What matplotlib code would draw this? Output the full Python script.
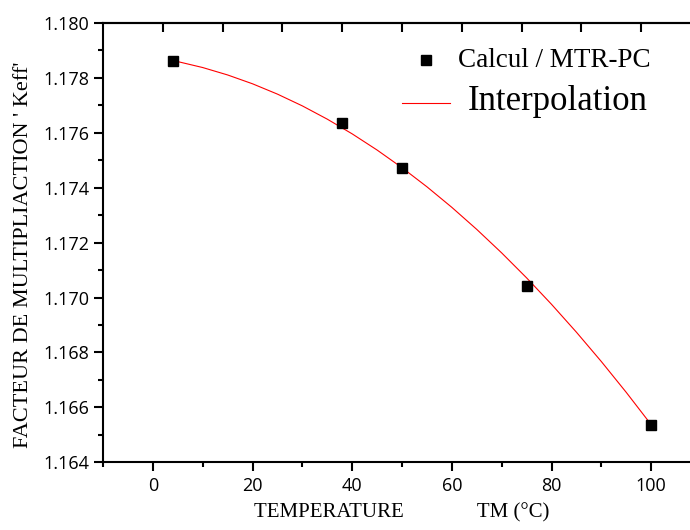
import matplotlib
matplotlib.use('Agg')
import matplotlib.pyplot as plt
from matplotlib.lines import Line2D

# Calculated points (MTR-PC)
temp_calc = [4, 38, 50, 75, 100]
keff_calc = [1.17863, 1.17637, 1.17473, 1.17043, 1.16537]

# Interpolation curve
temp_fit = [4, 5, 10, 15, 20, 25, 30, 35, 40, 45, 50, 55, 60, 65, 70, 75,
            80, 85, 90, 95, 100]
keff_fit = [1.178630, 1.178594, 1.178378, 1.178108, 1.177786, 1.177410,
            1.176981, 1.176498, 1.175962, 1.175373, 1.174730, 1.174034,
            1.173285, 1.172482, 1.171626, 1.170717, 1.169754, 1.168738,
            1.167669, 1.166546, 1.165370]

# inward ticks of the top axis
top_ticks = [2, 14, 26, 38, 50, 62, 74, 86, 98, 110]

SERIF = 'Liberation Serif'
SANS = 'Open Sans'

fig = plt.figure(figsize=(6.9, 5.3), dpi=100)
# right spine sits just outside the picture, as in the original
ax = fig.add_axes([0.1493, 0.1277, 0.8667, 0.8289])

ax.plot(temp_fit, keff_fit, color='#ff0000', linewidth=0.8, zorder=2)
ax.plot(temp_calc, keff_calc, linestyle='none', marker='s', markersize=7.5,
        color='black', zorder=3)

ax.set_xlim(-10, 110)
ax.set_ylim(1.164, 1.180)
ax.set_xticks([0, 20, 40, 60, 80, 100])
ax.set_xticks(range(-10, 111, 10), minor=True)
ax.set_yticks([1.164, 1.166, 1.168, 1.170, 1.172, 1.174, 1.176, 1.178, 1.180])
ax.set_yticks([1.165, 1.167, 1.169, 1.171, 1.173, 1.175, 1.177, 1.179],
              minor=True)
ax.set_yticklabels([f'{v:.3f}' for v in ax.get_yticks()])

for s in ax.spines.values():
    s.set_linewidth(1.5)

ax.tick_params(axis='both', which='major', direction='out', length=6.5,
               width=1.5, labelsize=13, pad=3.5)
ax.tick_params(axis='both', which='minor', direction='out', length=3.5,
               width=1.5)
ax.tick_params(axis='x', which='major', pad=4)
for lab in ax.get_xticklabels() + ax.get_yticklabels():
    lab.set_family(SANS)

top = ax.secondary_xaxis('top')
top.set_xticks(top_ticks)
top.set_xticklabels([])
top.tick_params(direction='in', length=6.5, width=1.5)
top.spines['top'].set_linewidth(1.5)

ax.set_xlabel('TEMPERATURE' + ' ' * 14 + 'TM (°C)', family=SERIF,
              fontsize=15, labelpad=6)
ax.set_ylabel("FACTEUR DE MULTIPLIACTION ' Keff'", family=SERIF,
              fontsize=16)
ax.yaxis.set_label_coords(-0.117, 0.472)

# legend, placed by hand like the original
fig.add_artist(Line2D([0.617], [0.8868], marker='s', markersize=7.5,
                      color='black', linestyle='none',
                      transform=fig.transFigure))
fig.text(0.664, 0.874, 'Calcul / MTR-PC', family=SERIF, fontsize=19.5,
         va='baseline', ha='left')
fig.add_artist(Line2D([0.5822, 0.6522], [0.8062, 0.8062], color='#ff0000',
                      linewidth=0.8, transform=fig.transFigure))
fig.text(0.678, 0.7925, 'Interpolation', family=SERIF, fontsize=25,
         va='baseline', ha='left')

fig.savefig('out.png', dpi=100)
